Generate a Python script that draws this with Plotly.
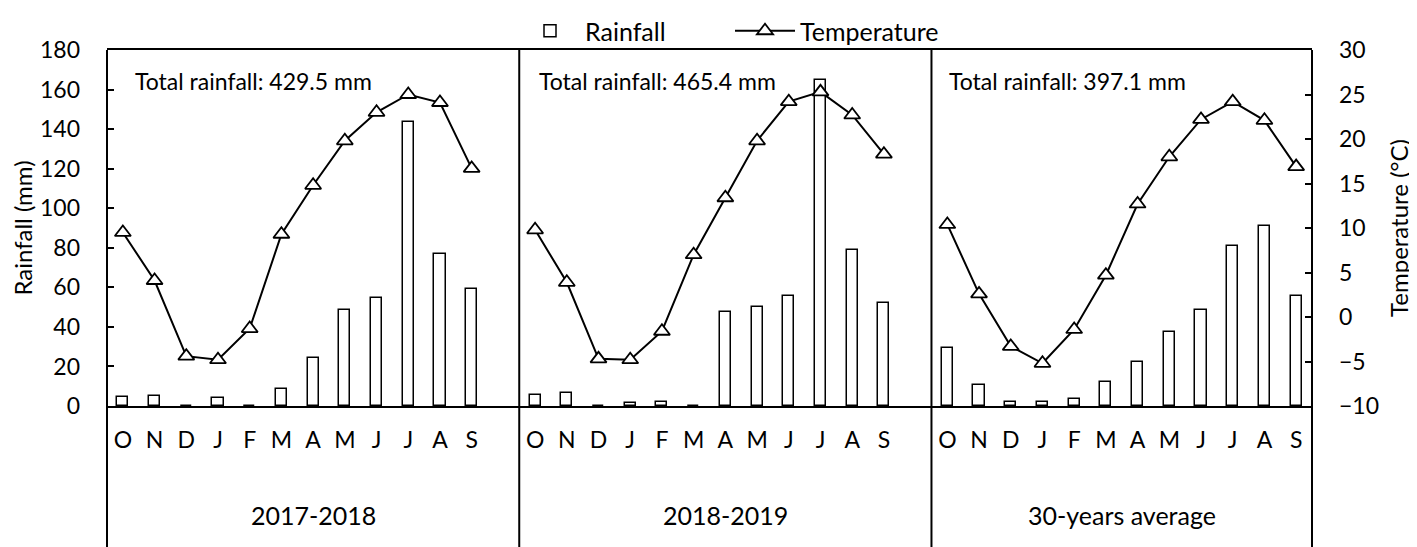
import plotly.graph_objects as go

# Months (Oct-Sep) and the three periods
months = ['O', 'N', 'D', 'J', 'F', 'M', 'A', 'M', 'J', 'J', 'A', 'S']
periods = ['2017-2018', '2018-2019', '30-years average']
totals = ['429.5', '465.4', '397.1']

# Monthly rainfall (mm)
rain_2017 = [4.5, 5.2, 0, 4.3, 0, 8.8, 24.3, 48.6, 54.5, 143.5, 77.0, 59.3]
rain_2018 = [5.6, 6.4, 0, 1.3, 2.2, 0, 47.4, 50.2, 55.8, 165.0, 78.9, 51.9]
rain_avg = [29.2, 10.6, 2.2, 2.2, 3.5, 12.3, 22.1, 37.6, 48.5, 81.0, 91.2, 55.8]

# Monthly mean temperature (°C)
temp_2017 = [9.5, 4.1, -4.4, -4.8, -1.3, 9.3, 14.8, 19.8, 23.0, 25.0, 24.1, 16.7]
temp_2018 = [9.8, 3.9, -4.7, -4.8, -1.6, 7.0, 13.4, 19.8, 24.2, 25.3, 22.7, 18.3]
temp_avg = [10.4, 2.6, -3.3, -5.2, -1.4, 4.7, 12.7, 18.0, 22.2, 24.2, 22.1, 16.9]

rain_sets = [rain_2017, rain_2018, rain_avg]
temp_sets = [temp_2017, temp_2018, temp_avg]

# each period takes 13 slots (12 months + an empty slot), like the Excel original
slot = 13
x_all, rain_all, temp_all, ticks, labels = [], [], [], [], []
for p in range(3):
    xs = [p * slot + i for i in range(len(months))]
    x_all += xs + [None]
    rain_all += rain_sets[p] + [None]
    temp_all += temp_sets[p] + [None]
    ticks += xs
    labels += months

font = 'Lato'
fig = go.Figure()

fig.add_trace(go.Bar(
    x=x_all, y=rain_all, name='Rainfall', width=0.35,
    marker=dict(color='white', line=dict(color='black', width=1.5)),
    yaxis='y'
))

fig.add_trace(go.Scatter(
    x=x_all, y=temp_all, name='Temperature', mode='lines+markers',
    connectgaps=False,
    line=dict(color='black', width=2),
    marker=dict(symbol='triangle-up', size=14, color='white',
                line=dict(color='black', width=1.8)),
    yaxis='y2'
))

# page is shifted 8px by the browser body margin, so margins compensate
m_l, m_t, m_r, m_b = 99, 42, 113, 149
plot_h = 547 - m_t - m_b
plot_w = 1417 - m_l - m_r

# vertical separators that run down through the category axis
bottom = -m_b / plot_h
for xv in [12.5, 25.5]:
    fig.add_shape(type='line', xref='x', yref='paper', x0=xv, x1=xv,
                  y0=bottom, y1=1, line=dict(color='black', width=2))
for xp in [0, 1]:
    fig.add_shape(type='line', xref='paper', yref='paper', x0=xp, x1=xp,
                  y0=bottom, y1=1, line=dict(color='black', width=2))

# period labels and rainfall totals
centers = [6, 19, 31.5]
text_x = [0.32, 13.06, 25.98]
for p in range(3):
    fig.add_annotation(x=centers[p], y=-109 / plot_h, xref='x', yref='paper',
                       yanchor='middle', text=periods[p], showarrow=False,
                       font=dict(size=25, color='black', family=font))
    fig.add_annotation(x=text_x[p], y=1 - 31 / plot_h, xref='x', yref='paper',
                       xanchor='left', yanchor='middle',
                       text='Total rainfall: ' + totals[p] + ' mm',
                       showarrow=False,
                       font=dict(size=23, color='black', family=font))

fig.update_layout(
    width=1417, height=547,
    margin=dict(l=m_l, r=m_r, t=m_t, b=m_b, autoexpand=False),
    paper_bgcolor='white', plot_bgcolor='white',
    font=dict(family=font, size=23, color='black'),
    bargap=0,
    showlegend=True,
    legend=dict(orientation='h', x=(507 - m_l) / plot_w, xanchor='left',
                y=1 + m_t / plot_h, yanchor='top', font=dict(size=25),
                itemwidth=60, entrywidth=140, tracegroupgap=0, borderwidth=0,
                bgcolor='rgba(0,0,0,0)'),
    xaxis=dict(range=[-0.5, 37.5], tickvals=ticks, ticktext=labels,
               showgrid=False, zeroline=False, showline=True, linecolor='black',
               linewidth=2, mirror=True, ticks='', ticklabelstandoff=12,
               tickfont=dict(size=23)),
    yaxis=dict(range=[0, 180], dtick=20, showgrid=False, zeroline=False,
               showline=False, ticks='inside', ticklen=7, tickwidth=2,
               tickcolor='black', ticklabelstandoff=26,
               title=dict(text='Rainfall (mm)', standoff=16, font=dict(size=24))),
    yaxis2=dict(range=[-10, 30], dtick=5, overlaying='y', side='right',
                showgrid=False, zeroline=False, showline=False,
                ticks='inside', ticklen=7, tickwidth=2, tickcolor='black',
                ticklabelstandoff=26,
                title=dict(text='Temperature (°C)', standoff=13, font=dict(size=24))),
)

fig.write_html("out.html")
